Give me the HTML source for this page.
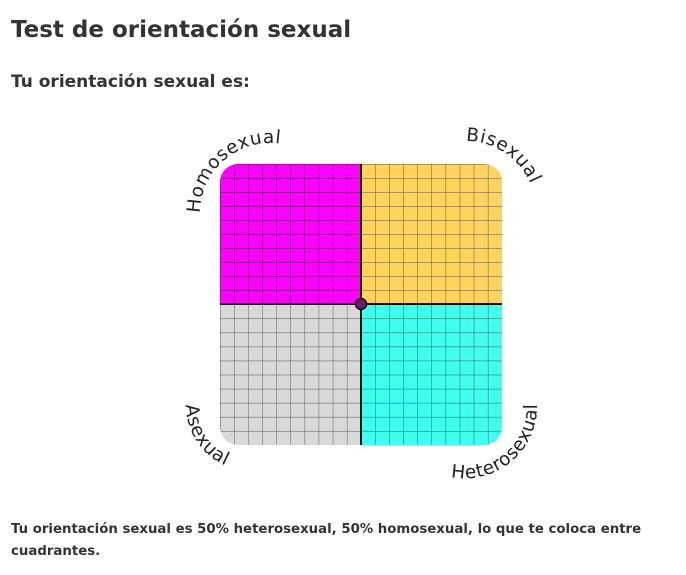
<!DOCTYPE html>
<html><head><meta charset="utf-8"><style>
body{margin:0;background:#fff;width:686px;height:575px;overflow:hidden;font-family:"DejaVu Sans","Liberation Sans",sans-serif;color:#333}
h1{position:absolute;left:11px;top:17px;margin:0;font-size:23px;font-weight:bold;color:#333}
h2{position:absolute;left:11px;top:72px;margin:0;font-size:17px;font-weight:bold;color:#333}
p{position:absolute;left:11px;top:519px;margin:0;font-size:13.3px;font-weight:bold;line-height:22px;width:660px;color:#333}
svg{position:absolute;left:0;top:0}
</style></head><body>
<h1>Test de orientación sexual</h1>
<h2>Tu orientación sexual es:</h2>
<svg width="686" height="575">
<defs>
<clipPath id="c"><rect x="220" y="164" width="282" height="281" rx="18"/></clipPath>
<pattern id="g" x="220" y="164" width="14.1" height="14.05" patternUnits="userSpaceOnUse">
<path d="M0 0V14.05M0 0H14.1" stroke="#222" stroke-width="0.9" fill="none" opacity="0.75"/></pattern>
<path id="p1" d="M200,213 A70,70 0 0,1 270,143 A70,70 0 0,1 310,155"/>
<path id="p2" d="M466,141 A70,70 0 0,1 536,211"/>
<path id="p3" d="M186,405 A66,66 0 0,0 252,471 A66,66 0 0,0 280,465"/>
<path id="p4" d="M451,477 A72,72 0 0,0 537,405 A72,72 0 0,0 530,375"/>
</defs>
<g clip-path="url(#c)">
<rect x="220" y="164" width="141" height="140" fill="#ff00ff"/>
<rect x="361" y="164" width="141" height="140" fill="#ffd45e"/>
<rect x="220" y="304" width="141" height="141" fill="#d9d9d9"/>
<rect x="361" y="304" width="141" height="141" fill="#40ffef"/>
<rect x="220" y="164" width="282" height="281" fill="url(#g)"/>
</g>
<line x1="361" y1="164" x2="361" y2="445" stroke="#111" stroke-width="2"/>
<line x1="220" y1="304" x2="502" y2="304" stroke="#111" stroke-width="2"/>
<circle cx="361" cy="304" r="5.5" fill="#6e1a6e" stroke="#111" stroke-width="1.5"/>
<g font-family="DejaVu Sans,sans-serif" font-size="18.5" fill="#222" letter-spacing="0.6">
<text><textPath href="#p1">Homosexual</textPath></text>
<text><textPath href="#p2">Bisexual</textPath></text>
<text><textPath href="#p3">Asexual</textPath></text>
<text><textPath href="#p4">Heterosexual</textPath></text>
</g>
</svg>
<p>Tu orientación sexual es 50% heterosexual, 50% homosexual, lo que te coloca entre cuadrantes.</p>
</body></html>
